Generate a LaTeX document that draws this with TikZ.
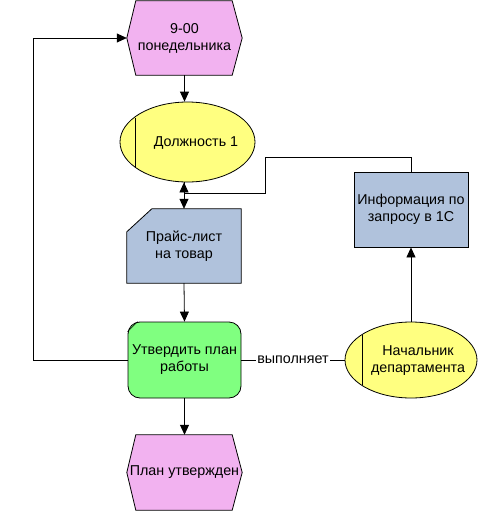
\documentclass[tikz,border=0pt]{standalone}
\usepackage{fontspec}
\setmainfont{Liberation Sans}
\usetikzlibrary{arrows.meta,shapes.geometric,backgrounds}
\definecolor{evpink}{RGB}{242,178,240}
\definecolor{evyellow}{RGB}{255,255,128}
\definecolor{evblue}{RGB}{176,194,220}
\definecolor{evgreen}{RGB}{128,255,128}
\begin{document}
\begin{tikzpicture}[x=1pt,y=-1pt,
  txt/.style={align=center,font=\fontsize{14.3}{17}\selectfont,inner sep=0pt},
  frame/.style={draw=black,line width=0.8pt},
  conn/.style={draw=black,line width=0.8pt,-{Triangle[length=10pt,width=9pt]}},
  plain/.style={draw=black,line width=0.8pt},
]
\useasboundingbox (0,0) rectangle (478,512);

% nodes
\node[txt,minimum width=115,minimum height=74] (h1) at (184.5,38) {9-00\\понедельника};
\node[ellipse,frame,fill=evyellow,minimum width=135,minimum height=80,inner sep=0pt] (d) at (187.5,142) {};
\node[txt] (dt) at (196,143) {Должность 1};
\node[txt,minimum width=114,minimum height=74] (p) at (184,246) {Прайс-лист\\на товар};
\node[txt,frame,fill=evblue,minimum width=114,minimum height=75] (info) at (411,209.5) {Информация по\\запросу в 1С};
\node[txt,frame,fill=evgreen,rounded corners=12pt,minimum width=113,minimum height=76] (u) at (184.5,360) {Утвердить план\\работы};
\node[ellipse,frame,fill=evyellow,minimum width=132,minimum height=76,inner sep=0pt] (n) at (411,360) {};
\node[txt] (nt) at (418,361) {Начальник\\департамента};
\node[txt,minimum width=115,minimum height=75] (h2) at (184.5,472.5) {План утвержден};

% shapes behind text
\begin{scope}[on background layer]
\draw[frame,fill=evpink] (h1.west) -- ([xshift=9pt]h1.north west) -- ([xshift=-10pt]h1.north east) -- (h1.east) -- ([xshift=-10pt]h1.south east) -- ([xshift=9pt]h1.south west) -- cycle;
\draw[frame,fill=evpink] (h2.west) -- ([xshift=9pt]h2.north west) -- ([xshift=-10pt]h2.north east) -- (h2.east) -- ([xshift=-10pt]h2.south east) -- ([xshift=9pt]h2.south west) -- cycle;
\draw[frame,fill=evblue] ([yshift=-23pt]p.north west) -- ([xshift=25pt]p.north west) -- (p.north east) -- (p.south east) -- (p.south west) -- cycle;
\end{scope}

% vertical bars in ellipses and corner mark
\draw[plain] (135,117.5) -- (135,166.5);
\draw[plain] (362,335) -- (362,385);
\draw[plain,line width=0.6pt] ([yshift=-10pt]u.north west) -- ([xshift=10pt]u.north west);

% connectors
\coordinate (b2) at (265,157);
\coordinate (b3) at (265,193);
\coordinate (l1) at (33,360);
\draw[conn] (h1.south) -- (h1.south |- d.north);
\draw[conn] (d.south -| p.north) -- (p.north);
\draw[conn] (info.north) |- (b2) -- (b3) -| (d.south -| p.north);
\draw[conn] (p.south) -- (u.north);
\draw[conn] (u.south) -- (h2.north);
\draw[conn] (n.north) -- (info.south);
\draw[conn] (u.west) -- (l1) |- (h1.west);
\draw[plain] (u.east) -- node[txt,fill=white,inner xsep=1pt] (lbl) {выполняет} (n.west);
\end{tikzpicture}
\end{document}
